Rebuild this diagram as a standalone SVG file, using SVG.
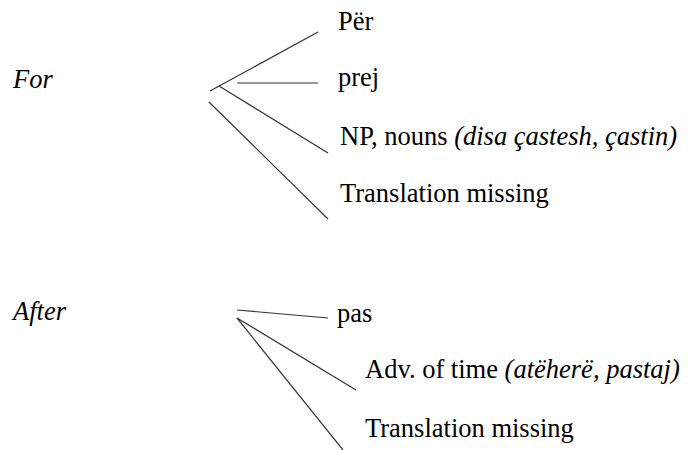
<svg xmlns="http://www.w3.org/2000/svg" width="688" height="450" viewBox="0 0 688 450">
<style>
text{font-family:'Liberation Serif','DejaVu Serif',serif;font-size:26.5px;fill:#000}
.i{font-style:italic}
.c line{stroke:#333;stroke-width:1.2}
</style>
<rect width="688" height="450" fill="#fff"/>
<g class="c" id="connectors">
<line x1="210" y1="91" x2="318" y2="32"/>
<line x1="237" y1="83" x2="318" y2="83"/>
<line x1="219" y1="86" x2="328" y2="153"/>
<line x1="209" y1="102" x2="328" y2="219"/>
<line x1="237" y1="310" x2="328" y2="318"/>
<line x1="237" y1="318" x2="356" y2="390"/>
<line x1="237" y1="318" x2="343" y2="450"/>
</g>
<g id="for"><text class="i" x="13" y="88">For</text></g>
<g id="per"><text x="338" y="30">Për</text></g>
<g id="prej"><text x="338" y="86">prej</text></g>
<g id="np"><text x="340" y="145">NP, nouns <tspan class="i">(disa çastesh, çastin)</tspan></text></g>
<g id="tm1"><text x="340" y="202">Translation missing</text></g>
<g id="after"><text class="i" x="13" y="320">After</text></g>
<g id="pas"><text x="337" y="322">pas</text></g>
<g id="adv"><text x="365" y="378">Adv. of time <tspan class="i">(atëherë, pastaj)</tspan></text></g>
<g id="tm2"><text x="365" y="437">Translation missing</text></g>
</svg>
